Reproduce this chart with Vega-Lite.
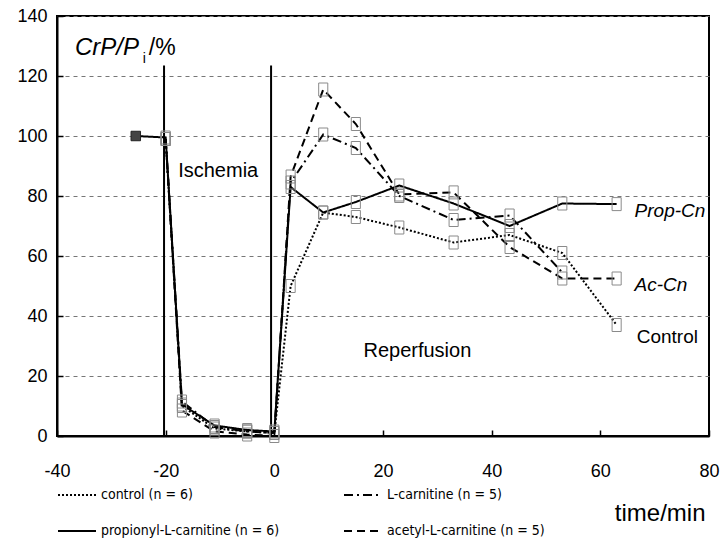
{
  "$schema": "https://vega.github.io/schema/vega-lite/v6.json",
  "width": 652,
  "height": 420,
  "autosize": {"type": "none"},
  "padding": {"left": 57, "top": 16, "right": 15, "bottom": 103},
  "background": "white",
  "config": {
    "font": "Liberation Sans",
    "view": {"stroke": "black", "strokeWidth": 2}
  },
  "datasets": {
    "series": [
      {"group": "control (n = 6)", "t": -20, "v": 99},
      {"group": "control (n = 6)", "t": -17, "v": 10},
      {"group": "control (n = 6)", "t": -11, "v": 2.5},
      {"group": "control (n = 6)", "t": -5, "v": 1.5},
      {"group": "control (n = 6)", "t": 0, "v": 1},
      {"group": "control (n = 6)", "t": 3, "v": 50},
      {"group": "control (n = 6)", "t": 9, "v": 74.5},
      {"group": "control (n = 6)", "t": 15, "v": 73},
      {"group": "control (n = 6)", "t": 23, "v": 69.5},
      {"group": "control (n = 6)", "t": 33, "v": 64.5},
      {"group": "control (n = 6)", "t": 43.3, "v": 67},
      {"group": "control (n = 6)", "t": 53, "v": 61},
      {"group": "control (n = 6)", "t": 63, "v": 37},
      {"group": "L-carnitine (n = 5)", "t": -20, "v": 99},
      {"group": "L-carnitine (n = 5)", "t": -17, "v": 11.5},
      {"group": "L-carnitine (n = 5)", "t": -11, "v": 3},
      {"group": "L-carnitine (n = 5)", "t": -5, "v": 1.5},
      {"group": "L-carnitine (n = 5)", "t": 0, "v": 1},
      {"group": "L-carnitine (n = 5)", "t": 3, "v": 84.5},
      {"group": "L-carnitine (n = 5)", "t": 9, "v": 100.5},
      {"group": "L-carnitine (n = 5)", "t": 15, "v": 96},
      {"group": "L-carnitine (n = 5)", "t": 23, "v": 80},
      {"group": "L-carnitine (n = 5)", "t": 33, "v": 72},
      {"group": "L-carnitine (n = 5)", "t": 43.3, "v": 73.5},
      {"group": "L-carnitine (n = 5)", "t": 53, "v": 54.5},
      {"group": "propionyl-L-carnitine (n = 6)", "t": -25.5, "v": 100},
      {"group": "propionyl-L-carnitine (n = 6)", "t": -20, "v": 99.5},
      {"group": "propionyl-L-carnitine (n = 6)", "t": -17, "v": 10.5},
      {"group": "propionyl-L-carnitine (n = 6)", "t": -11, "v": 3.5},
      {"group": "propionyl-L-carnitine (n = 6)", "t": -5, "v": 2},
      {"group": "propionyl-L-carnitine (n = 6)", "t": 0, "v": 1.5},
      {"group": "propionyl-L-carnitine (n = 6)", "t": 3, "v": 83},
      {"group": "propionyl-L-carnitine (n = 6)", "t": 9, "v": 74.5},
      {"group": "propionyl-L-carnitine (n = 6)", "t": 15, "v": 78},
      {"group": "propionyl-L-carnitine (n = 6)", "t": 23, "v": 83.5},
      {"group": "propionyl-L-carnitine (n = 6)", "t": 33, "v": 77.5},
      {"group": "propionyl-L-carnitine (n = 6)", "t": 43.3, "v": 70},
      {"group": "propionyl-L-carnitine (n = 6)", "t": 53, "v": 77.5},
      {"group": "propionyl-L-carnitine (n = 6)", "t": 63, "v": 77.3},
      {"group": "acetyl-L-carnitine (n = 5)", "t": -20, "v": 99},
      {"group": "acetyl-L-carnitine (n = 5)", "t": -17, "v": 8.5},
      {"group": "acetyl-L-carnitine (n = 5)", "t": -11, "v": 1.5},
      {"group": "acetyl-L-carnitine (n = 5)", "t": -5, "v": 0.5},
      {"group": "acetyl-L-carnitine (n = 5)", "t": 0, "v": 0},
      {"group": "acetyl-L-carnitine (n = 5)", "t": 3, "v": 86.5},
      {"group": "acetyl-L-carnitine (n = 5)", "t": 9, "v": 115.5},
      {"group": "acetyl-L-carnitine (n = 5)", "t": 15, "v": 104},
      {"group": "acetyl-L-carnitine (n = 5)", "t": 23, "v": 80.5},
      {"group": "acetyl-L-carnitine (n = 5)", "t": 33, "v": 81.2},
      {"group": "acetyl-L-carnitine (n = 5)", "t": 43.3, "v": 63},
      {"group": "acetyl-L-carnitine (n = 5)", "t": 53, "v": 52.5},
      {"group": "acetyl-L-carnitine (n = 5)", "t": 63, "v": 52.5}
    ],
    "phases": [
      {"t": -20.3, "top": 123.5, "bottom": 0},
      {"t": -0.6, "top": 123.5, "bottom": 0}
    ],
    "plainLabels": [
      {"text": "Ischemia", "t": -17.7, "v": 86.3},
      {"text": "Reperfusion", "t": 16.4, "v": 26.3}
    ],
    "endLabelsItalic": [
      {"text": "Prop-Cn", "t": 66.3, "v": 73},
      {"text": "Ac-Cn", "t": 66.3, "v": 48.3}
    ],
    "endLabelsPlain": [
      {"text": "Control", "t": 66.7, "v": 31}
    ],
    "titleItalic": [{"text": "CrP/P", "t": -36.7, "v": 127}],
    "titleSub": [{"text": "i", "t": -24.2, "v": 124.3}],
    "titleRest": [{"text": "/%", "t": -23.1, "v": 127}]
  },
  "layer": [
    {
      "data": {"name": "phases"},
      "mark": {"type": "rule", "color": "black", "strokeWidth": 2},
      "encoding": {
        "x": {"field": "t", "type": "quantitative", "scale": {"domain": [-40, 80], "nice": false, "zero": false},
          "axis": {
            "values": [-40, -20, 0, 20, 40, 60, 80],
            "labelExpr": "'' + datum.value",
            "title": "time/min",
            "titleFontSize": 24, "titleFontWeight": "normal", "titleColor": "black",
            "titleAnchor": "end", "titleAlign": "right", "titleBaseline": "alphabetic",
            "titleX": 648, "titleY": 84,
            "labelFontSize": 18, "labelColor": "black", "labelPadding": 32,
            "tickSize": -6, "tickColor": "black", "tickWidth": 1.5,
            "domainColor": "black", "domainWidth": 2,
            "grid": false, "labelFlush": false
          }
        },
        "y": {"field": "bottom", "type": "quantitative", "scale": {"domain": [0, 140], "nice": false},
          "axis": {
            "values": [0, 20, 40, 60, 80, 100, 120, 140],
            "title": null,
            "labelFontSize": 18, "labelColor": "black", "labelPadding": 16,
            "tickSize": -6, "tickColor": "black", "tickWidth": 1.5,
            "domainColor": "black", "domainWidth": 2,
            "grid": true, "gridColor": "#777", "gridDash": [4, 4], "gridWidth": 1,
            "labelFlush": false
          }
        },
        "y2": {"field": "top"}
      }
    },
    {
      "data": {"name": "series"},
      "mark": {"type": "line", "color": "black", "strokeWidth": 2},
      "encoding": {
        "x": {"field": "t", "type": "quantitative"},
        "y": {"field": "v", "type": "quantitative"},
        "order": {"field": "t", "type": "quantitative"},
        "strokeDash": {
          "field": "group", "type": "nominal",
          "scale": {
            "domain": ["control (n = 6)", "L-carnitine (n = 5)", "propionyl-L-carnitine (n = 6)", "acetyl-L-carnitine (n = 5)"],
            "range": [[2, 2], [9, 4, 2, 4], [1, 0], [8, 5]]
          },
          "legend": {
            "orient": "none", "legendX": 0, "legendY": 459,
            "columns": 2, "direction": "horizontal", "title": null,
            "symbolType": "stroke", "symbolSize": 1444, "symbolStrokeWidth": 2,
            "symbolStrokeColor": "black",
            "labelFont": "Liberation Sans Narrow, DejaVu Sans Condensed, Liberation Sans",
            "labelFontSize": 14, "labelColor": "black", "labelOffset": 4, "labelLimit": 300,
            "columnPadding": 60, "rowPadding": 9
          }
        }
      }
    },
    {
      "data": {"name": "series"},
      "transform": [{"filter": "datum.t > -22"}],
      "mark": {"type": "point", "shape": "M-0.7,-1H0.7V1H-0.7Z", "size": 169, "filled": false, "stroke": "#8a8a8a", "strokeWidth": 1, "opacity": 1},
      "encoding": {
        "x": {"field": "t", "type": "quantitative"},
        "y": {"field": "v", "type": "quantitative"}
      }
    },
    {
      "data": {"name": "series"},
      "transform": [{"filter": "datum.t < -22"}],
      "mark": {"type": "point", "shape": "square", "size": 90, "filled": true, "fill": "#444", "stroke": "#222", "strokeWidth": 1, "opacity": 1},
      "encoding": {
        "x": {"field": "t", "type": "quantitative"},
        "y": {"field": "v", "type": "quantitative"}
      }
    },
    {
      "data": {"name": "plainLabels"},
      "mark": {"type": "text", "align": "left", "baseline": "alphabetic", "fontSize": 20, "color": "black"},
      "encoding": {
        "x": {"field": "t", "type": "quantitative"},
        "y": {"field": "v", "type": "quantitative"},
        "text": {"field": "text"}
      }
    },
    {
      "data": {"name": "endLabelsItalic"},
      "mark": {"type": "text", "align": "left", "baseline": "alphabetic", "fontSize": 19, "fontStyle": "italic", "color": "black"},
      "encoding": {
        "x": {"field": "t", "type": "quantitative"},
        "y": {"field": "v", "type": "quantitative"},
        "text": {"field": "text"}
      }
    },
    {
      "data": {"name": "endLabelsPlain"},
      "mark": {"type": "text", "align": "left", "baseline": "alphabetic", "fontSize": 19, "color": "black"},
      "encoding": {
        "x": {"field": "t", "type": "quantitative"},
        "y": {"field": "v", "type": "quantitative"},
        "text": {"field": "text"}
      }
    },
    {
      "data": {"name": "titleItalic"},
      "mark": {"type": "text", "align": "left", "baseline": "alphabetic", "fontSize": 24, "fontStyle": "italic", "color": "black"},
      "encoding": {
        "x": {"field": "t", "type": "quantitative"},
        "y": {"field": "v", "type": "quantitative"},
        "text": {"field": "text"}
      }
    },
    {
      "data": {"name": "titleSub"},
      "mark": {"type": "text", "align": "left", "baseline": "alphabetic", "fontSize": 14, "color": "black"},
      "encoding": {
        "x": {"field": "t", "type": "quantitative"},
        "y": {"field": "v", "type": "quantitative"},
        "text": {"field": "text"}
      }
    },
    {
      "data": {"name": "titleRest"},
      "mark": {"type": "text", "align": "left", "baseline": "alphabetic", "fontSize": 23, "color": "black"},
      "encoding": {
        "x": {"field": "t", "type": "quantitative"},
        "y": {"field": "v", "type": "quantitative"},
        "text": {"field": "text"}
      }
    }
  ]
}
